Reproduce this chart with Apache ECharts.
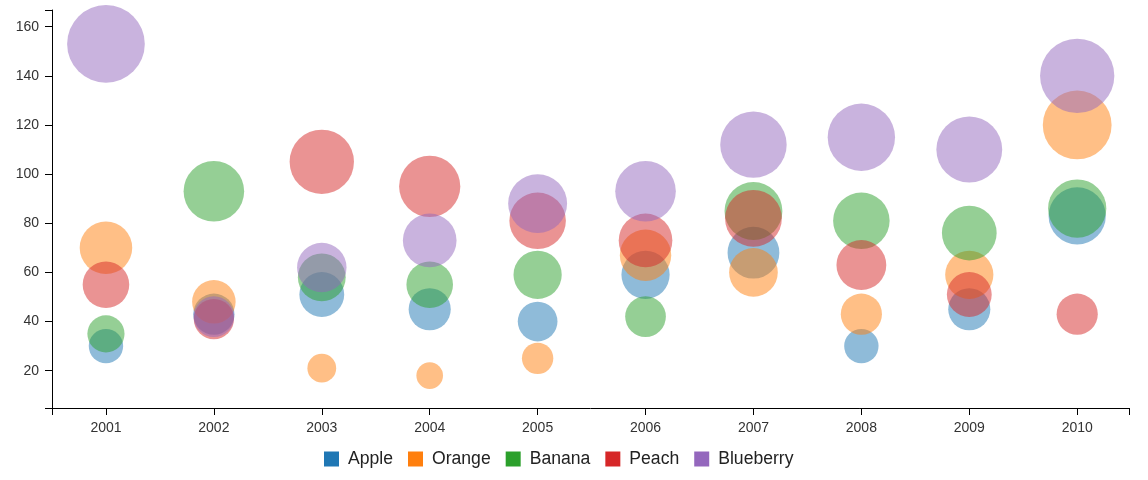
<!DOCTYPE html>
<html>
<head>
<meta charset="utf-8">
<title>Fruit bubbles</title>
<script src="https://cdn.jsdelivr.net/npm/echarts@6/dist/echarts.min.js"></script>
<style>
  html, body { margin: 0; padding: 0; background: #fff; }
  #chart { width: 1148px; height: 480px; }
</style>
</head>
<body>
<div id="chart"></div>
<script>
// categories (years) and one array of values per fruit
const years = [2001, 2002, 2003, 2004, 2005, 2006, 2007, 2008, 2009, 2010];
const apple = [30, 43, 51, 45, 40, 59, 68, 30, 45, 83];
const orange = [70, 48, 21, 18, 25, 67, 60, 43, 59, 120];
const banana = [35, 93, 58, 55, 59, 42, 85, 81, 76, 86];
const peach = [55, 41, 105, 95, 81, 73, 82, 63, 51, 43];
const blueberry = [153, 42, 62, 73, 88, 93, 112, 115, 110, 140];
const yTicks = [20, 40, 60, 80, 100, 120, 140, 160];

const fruits = [
  { name: 'Apple', values: apple, color: '#1f77b4' },
  { name: 'Orange', values: orange, color: '#ff7f0e' },
  { name: 'Banana', values: banana, color: '#2ca02c' },
  { name: 'Peach', values: peach, color: '#d62728' },
  { name: 'Blueberry', values: blueberry, color: '#9467bd' }
];

const xMin = 2000.5, xMax = 2010.48;
const yMin = 4.8, yMax = 166.8;
const font = '"Liberation Sans", Arial, sans-serif';

const chart = echarts.init(document.getElementById('chart'));

chart.setOption({
  animation: false,
  textStyle: { fontFamily: font },
  grid: { left: 52, right: 19, top: 10, bottom: 72, outerBoundsMode: 'none' },
  legend: {
    left: 319,
    top: 445,
    icon: 'rect',
    itemWidth: 15,
    itemHeight: 15,
    itemGap: 15,
    itemStyle: { opacity: 1 },
    textStyle: { fontFamily: font, fontSize: 17.6, color: '#222', padding: [0, 0, 0, 4] },
    data: fruits.map(f => f.name)
  },
  xAxis: {
    type: 'value',
    min: xMin,
    max: xMax,
    axisLine: { show: true, lineStyle: { color: '#000', width: 1 } },
    // ticks on each year plus the two outer ends, like d3
    axisTick: { show: true, length: 7, lineStyle: { color: '#000' },
      customValues: [xMin].concat(years, [xMax]) },
    axisLabel: { customValues: years, margin: 13, fontSize: 14, color: '#333',
      formatter: v => String(Math.round(v)) },
    splitLine: { show: false }
  },
  yAxis: {
    type: 'value',
    min: yMin,
    max: yMax,
    axisLine: { show: true, lineStyle: { color: '#000', width: 1 } },
    axisTick: { show: true, length: 7, lineStyle: { color: '#000' },
      customValues: [yMin].concat(yTicks, [yMax]) },
    axisLabel: { customValues: yTicks, margin: 13, fontSize: 14, color: '#333' },
    splitLine: { show: false }
  },
  series: fruits.map(f => ({
    name: f.name,
    type: 'scatter',
    // bubble area follows the value
    symbolSize: d => 6.28 * Math.sqrt(d[1]),
    itemStyle: { color: f.color, opacity: 0.5 },
    emphasis: { disabled: true },
    data: years.map((y, i) => [y, f.values[i]])
  }))
});
</script>
</body>
</html>
